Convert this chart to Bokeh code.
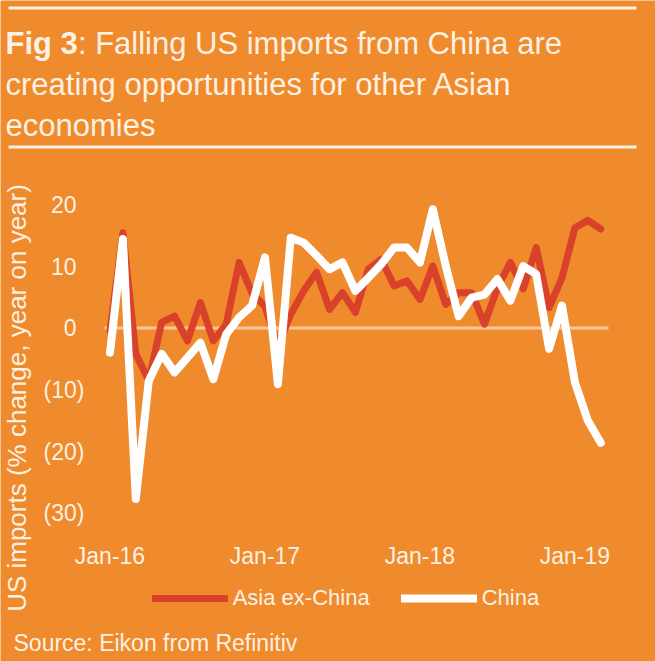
import numpy as np
import pandas as pd
from bokeh.plotting import figure
from bokeh.models import (Label, BoxAnnotation, Legend, LegendItem,
                          FixedTicker, Range1d, LinearAxis)
from bokeh.embed import file_html
from bokeh.resources import INLINE

# ---------------- data ----------------
months = pd.date_range("2016-01-01", periods=39, freq="MS")
asia_ex_china = [-0.5, 15.4, -4.2, -8.5, 0.9, 1.9, -2.1, 4.1, -2.1, 0.6,
                 10.6, 5.6, 3.5, -3.0, 2.2, 6.0, 9.0, 3.0, 5.7, 2.5,
                 9.5, 11.1, 6.8, 7.6, 4.6, 10.0, 3.8, 5.7, 5.7, 0.6,
                 6.5, 10.6, 6.3, 13.0, 3.3, 8.1, 16.2, 17.4, 16.0]
china = [-4.0, 14.4, -27.7, -8.6, -4.2, -7.2, -4.8, -2.4, -8.3, -1.0,
         1.7, 3.6, 11.4, -9.1, 14.6, 13.8, 11.7, 9.5, 10.6, 6.0,
         8.1, 10.3, 13.0, 13.0, 10.6, 19.2, 10.0, 1.9, 4.9, 5.4,
         7.9, 4.4, 10.0, 8.7, -3.4, 3.6, -8.8, -15.0, -18.6]
x_tick_months = ["2016-01", "2017-01", "2018-01", "2019-01"]
x_tick_labels = ["Jan-16", "Jan-17", "Jan-18", "Jan-19"]
y_ticks_pos = [20, 10, 0]
y_tick_labels_pos = ["20", "10", "0"]
y_ticks_neg = [-10, -20, -30]
y_tick_labels_neg = ["(10)", "(20)", "(30)"]
series_names = ["Asia ex-China", "China"]

title_bold = "Fig 3"
title_line1 = ": Falling US imports from China are"
title_line2 = "creating opportunities for other Asian"
title_line3 = "economies"
y_label = "US imports (% change, year on year)"
source = "Source: Eikon from Refinitiv"

# ---------------- styling / layout ----------------
BG = "#EF8A2D"
RED = "#D8412A"
WHITE = "#FFFFFF"
TXT = "#FDF1E3"
ZERO = "#F7C69C"
FONT = "Liberation Sans"

W, H = 655, 661
# the plot frame spans the whole canvas; the data ranges are set so that the
# chart area sits where it sits in the reference
PX_PER_MONTH, X0_PX = 12.914, 109.5      # month 0 at canvas x 109.5
PX_PER_PCT, Y0_PX = 6.18, 327.4          # 0 % at canvas y 327.4
x_start, x_end = -X0_PX / PX_PER_MONTH, (W - X0_PX) / PX_PER_MONTH
y_start, y_end = (Y0_PX - H) / PX_PER_PCT, Y0_PX / PX_PER_PCT
area_left = (104 - X0_PX) / PX_PER_MONTH    # chart area edges (data units)
area_right = (608 - X0_PX) / PX_PER_MONTH
area_bottom = (Y0_PX - 531) / PX_PER_PCT

x = np.arange(len(months))
month_str = [m.strftime("%Y-%m") for m in months]
tick_pos = [month_str.index(m) for m in x_tick_months]

p = figure(width=W, height=H, output_backend="svg", toolbar_location=None,
           title=None, x_axis_location=None, y_axis_location=None,
           x_range=Range1d(x_start, x_end), y_range=Range1d(y_start, y_end),
           min_border=0,
           background_fill_color=BG, border_fill_color=BG,
           outline_line_color=None)
p.xgrid.visible = False
p.ygrid.visible = False

xaxis = LinearAxis(fixed_location=area_bottom,
                   ticker=FixedTicker(ticks=tick_pos),
                   major_label_overrides={t: l for t, l in zip(tick_pos, x_tick_labels)},
                   major_label_standoff=5)
# accounting-style labels: positives end where the digits of "(10)" end
yaxis_pos = LinearAxis(fixed_location=area_left,
                       ticker=FixedTicker(ticks=y_ticks_pos),
                       major_label_overrides={t: l for t, l in zip(y_ticks_pos, y_tick_labels_pos)},
                       major_label_standoff=22)
yaxis_neg = LinearAxis(fixed_location=area_left,
                       ticker=FixedTicker(ticks=y_ticks_neg),
                       major_label_overrides={t: l for t, l in zip(y_ticks_neg, y_tick_labels_neg)},
                       major_label_standoff=14)
for ax in (xaxis, yaxis_pos, yaxis_neg):
    ax.axis_line_color = None
    ax.major_tick_line_color = None
    ax.minor_tick_line_color = None
    ax.major_label_text_font = FONT
    ax.major_label_text_font_size = "23px"
    ax.major_label_text_color = TXT
p.add_layout(xaxis, "below")
p.add_layout(yaxis_pos, "left")
p.add_layout(yaxis_neg, "left")

# zero line across the chart area
p.line([area_left, area_right], [0, 0], line_color=ZERO, line_width=3)

# series
r_asia = p.line(x, asia_ex_china, line_color=RED, line_width=7,
                line_join="round", line_cap="round")
r_china = p.line(x, china, line_color=WHITE, line_width=8,
                 line_join="round", line_cap="round")

legend = Legend(items=[LegendItem(label=series_names[0], renderers=[r_asia]),
                       LegendItem(label=series_names[1], renderers=[r_china])],
                location=(151.7, H - 611), orientation="horizontal",
                glyph_width=76, glyph_height=26, label_height=26,
                label_standoff=5, spacing=31, padding=0, margin=0,
                border_line_color=None, background_fill_alpha=0,
                label_text_font=FONT, label_text_font_size="22px",
                label_text_color=TXT)
p.add_layout(legend)


def lab(text, cx, cy, size, **kw):
    """cx, cy: canvas px from the top-left corner."""
    return Label(x=cx, y=H - cy, x_units="screen", y_units="screen",
                 text=text, text_font=FONT, text_font_size=size,
                 text_color=TXT, **kw)


p.add_layout(lab(title_bold, 5, 42.7, "31px", text_font_style="bold",
                 text_baseline="alphabetic"))
p.add_layout(lab(title_line1, 77.4, 42.7, "31px", text_baseline="alphabetic"))
p.add_layout(lab(title_line2, 5, 84, "31px", text_baseline="alphabetic"))
p.add_layout(lab(title_line3, 5, 124.5, "31px", text_baseline="alphabetic"))
p.add_layout(lab(y_label, 16.5, 397.5, "26px", angle=np.pi / 2,
                 text_align="center", text_baseline="middle"))
p.add_layout(lab(source, 13, 642, "23px", text_baseline="alphabetic"))

# white rules above and below the title
for top, bot in [(6, 9), (145, 148)]:
    p.add_layout(BoxAnnotation(left=8, right=636, top=H - top, bottom=H - bot,
                               left_units="screen", right_units="screen",
                               top_units="screen", bottom_units="screen",
                               fill_color=TXT, fill_alpha=1, line_color=None))

open("out.html", "w").write(file_html(p, INLINE))
